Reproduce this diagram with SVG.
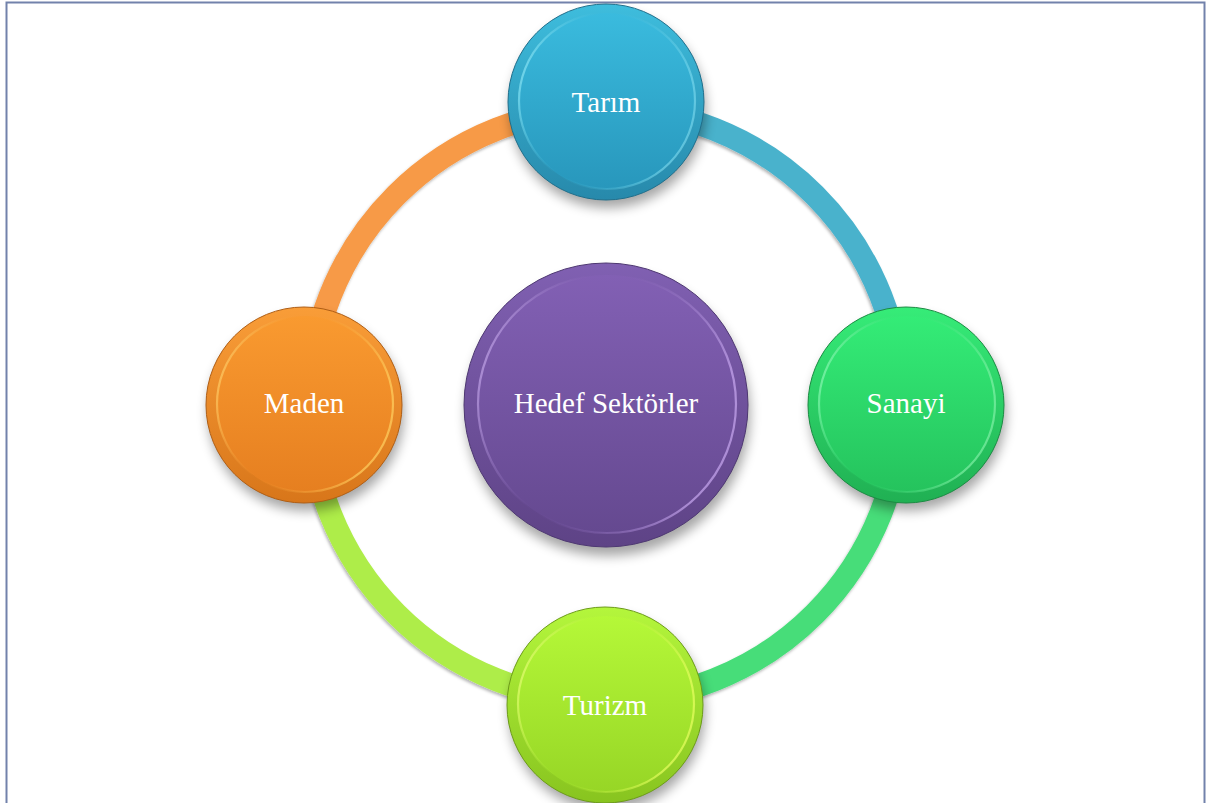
<svg xmlns="http://www.w3.org/2000/svg" width="1208" height="803" viewBox="0 0 1208 803">
  <style>
    .lbl { font-family: "Liberation Serif", "Times New Roman", serif; font-size: 29px; fill: #ffffff; text-anchor: middle; }
    .arc { fill: none; stroke-width: 23; stroke-linecap: butt; }
    .rim { stroke-width: 1; }
    .face { stroke-width: 2.2; }
  </style>
  <defs>
    <filter id="shadow" x="-30%" y="-30%" width="160%" height="160%">
      <feGaussianBlur stdDeviation="6"/>
    </filter>
    <filter id="arcShadow" x="-10%" y="-10%" width="120%" height="120%">
      <feDropShadow dx="-1" dy="2" stdDeviation="1.5" flood-color="#000" flood-opacity="0.3"/>
    </filter>
    <!-- Tarım -->
    <linearGradient id="tO" x1="0" y1="0" x2="0" y2="1"><stop offset="0" stop-color="#3ebddd"/><stop offset="1" stop-color="#2789ab"/></linearGradient>
    <linearGradient id="tI" x1="0" y1="0" x2="0" y2="1"><stop offset="0" stop-color="#3abbde"/><stop offset="1" stop-color="#2897bc"/></linearGradient>
    <linearGradient id="tH" x1="0" y1="0" x2="1" y2="0.3"><stop offset="0" stop-color="#9aeefa"/><stop offset="0.45" stop-color="#3ab6d8" stop-opacity="0"/><stop offset="1" stop-color="#7fdcf0" stop-opacity="0.6"/></linearGradient>
    <!-- Sanayi -->
    <linearGradient id="sO" x1="0" y1="0" x2="0" y2="1"><stop offset="0" stop-color="#36ec78"/><stop offset="1" stop-color="#20b053"/></linearGradient>
    <linearGradient id="sI" x1="0" y1="0" x2="0" y2="1"><stop offset="0" stop-color="#34ec77"/><stop offset="1" stop-color="#25c35d"/></linearGradient>
    <linearGradient id="sH" x1="0" y1="0" x2="1" y2="0.3"><stop offset="0" stop-color="#a0fbc2"/><stop offset="0.45" stop-color="#30e070" stop-opacity="0"/><stop offset="1" stop-color="#8ef5b0" stop-opacity="0.6"/></linearGradient>
    <!-- Turizm -->
    <linearGradient id="uO" x1="0" y1="0" x2="0" y2="1"><stop offset="0" stop-color="#b4f63c"/><stop offset="1" stop-color="#88c41f"/></linearGradient>
    <linearGradient id="uI" x1="0" y1="0" x2="0" y2="1"><stop offset="0" stop-color="#b5f838"/><stop offset="1" stop-color="#97d626"/></linearGradient>
    <linearGradient id="uH" x1="0" y1="0" x2="1" y2="0.3"><stop offset="0" stop-color="#f0ff80"/><stop offset="0.45" stop-color="#b0f035" stop-opacity="0"/><stop offset="1" stop-color="#e8ff60" stop-opacity="0.7"/></linearGradient>
    <!-- Maden -->
    <linearGradient id="mO" x1="0" y1="0" x2="0" y2="1"><stop offset="0" stop-color="#f99d38"/><stop offset="1" stop-color="#d8761a"/></linearGradient>
    <linearGradient id="mI" x1="0" y1="0" x2="0" y2="1"><stop offset="0" stop-color="#f99a30"/><stop offset="1" stop-color="#e67f20"/></linearGradient>
    <linearGradient id="mH" x1="0" y1="0" x2="1" y2="0.3"><stop offset="0" stop-color="#ffd872"/><stop offset="0.45" stop-color="#f59530" stop-opacity="0"/><stop offset="1" stop-color="#ffd060" stop-opacity="0.7"/></linearGradient>
    <!-- Center -->
    <linearGradient id="cO" x1="0" y1="0" x2="0" y2="1"><stop offset="0" stop-color="#8060b2"/><stop offset="1" stop-color="#5e4386"/></linearGradient>
    <linearGradient id="cI" x1="0" y1="0" x2="0" y2="1"><stop offset="0" stop-color="#8260b4"/><stop offset="1" stop-color="#654990"/></linearGradient>
    <linearGradient id="cH" x1="0" y1="0" x2="1" y2="0.3"><stop offset="0" stop-color="#d2b6f6"/><stop offset="0.45" stop-color="#7a58aa" stop-opacity="0"/><stop offset="1" stop-color="#c8a8f0" stop-opacity="0.7"/></linearGradient>
  </defs>

  <rect x="0" y="0" width="1208" height="803" fill="#ffffff"/>
  <rect x="6.5" y="2.5" width="1198" height="820" fill="none" stroke="#7282ab" stroke-width="2"/>

  <g id="connectors" filter="url(#arcShadow)">
    <path class="arc" stroke="#f79a46" d="M 309.5 404.5 A 296 296 0 0 1 605.5 108.5"/>
    <path class="arc" stroke="#4ab2cc" d="M 605.5 108.5 A 296 296 0 0 1 901.5 404.5"/>
    <path class="arc" stroke="#46dd79" d="M 901.5 404.5 A 296 296 0 0 1 605.5 700.5"/>
    <path class="arc" stroke="#aeed4a" d="M 605.5 700.5 A 296 296 0 0 1 309.5 404.5"/>
  </g>

  <g id="node-center">
    <circle cx="608" cy="414" r="142" fill="#000" opacity="0.35" filter="url(#shadow)"/>
    <circle class="rim" cx="606" cy="405" r="142" fill="url(#cO)" stroke="#4e3872"/>
    <circle class="face" cx="607" cy="404" r="129" fill="url(#cI)" stroke="url(#cH)"/>
    <text class="lbl" x="606" y="413">Hedef Sektörler</text>
  </g>

  <g id="node-tarim">
    <circle cx="608" cy="110" r="98" fill="#000" opacity="0.35" filter="url(#shadow)"/>
    <circle class="rim" cx="606" cy="102" r="98" fill="url(#tO)" stroke="#1f6f8c"/>
    <circle class="face" cx="607" cy="101" r="88" fill="url(#tI)" stroke="url(#tH)"/>
    <text class="lbl" x="606" y="112">Tarım</text>
  </g>

  <g id="node-sanayi">
    <circle cx="908" cy="413" r="98" fill="#000" opacity="0.35" filter="url(#shadow)"/>
    <circle class="rim" cx="906" cy="405" r="98" fill="url(#sO)" stroke="#1a8c42"/>
    <circle class="face" cx="907" cy="404" r="88" fill="url(#sI)" stroke="url(#sH)"/>
    <text class="lbl" x="906" y="413">Sanayi</text>
  </g>

  <g id="node-turizm">
    <circle cx="607" cy="713" r="98" fill="#000" opacity="0.35" filter="url(#shadow)"/>
    <circle class="rim" cx="605" cy="705" r="98" fill="url(#uO)" stroke="#6c9c18"/>
    <circle class="face" cx="606" cy="704" r="88" fill="url(#uI)" stroke="url(#uH)"/>
    <text class="lbl" x="605" y="715">Turizm</text>
  </g>

  <g id="node-maden">
    <circle cx="306" cy="413" r="98" fill="#000" opacity="0.35" filter="url(#shadow)"/>
    <circle class="rim" cx="304" cy="405" r="98" fill="url(#mO)" stroke="#b05e14"/>
    <circle class="face" cx="305" cy="404" r="88" fill="url(#mI)" stroke="url(#mH)"/>
    <text class="lbl" x="304" y="413">Maden</text>
  </g>
</svg>
